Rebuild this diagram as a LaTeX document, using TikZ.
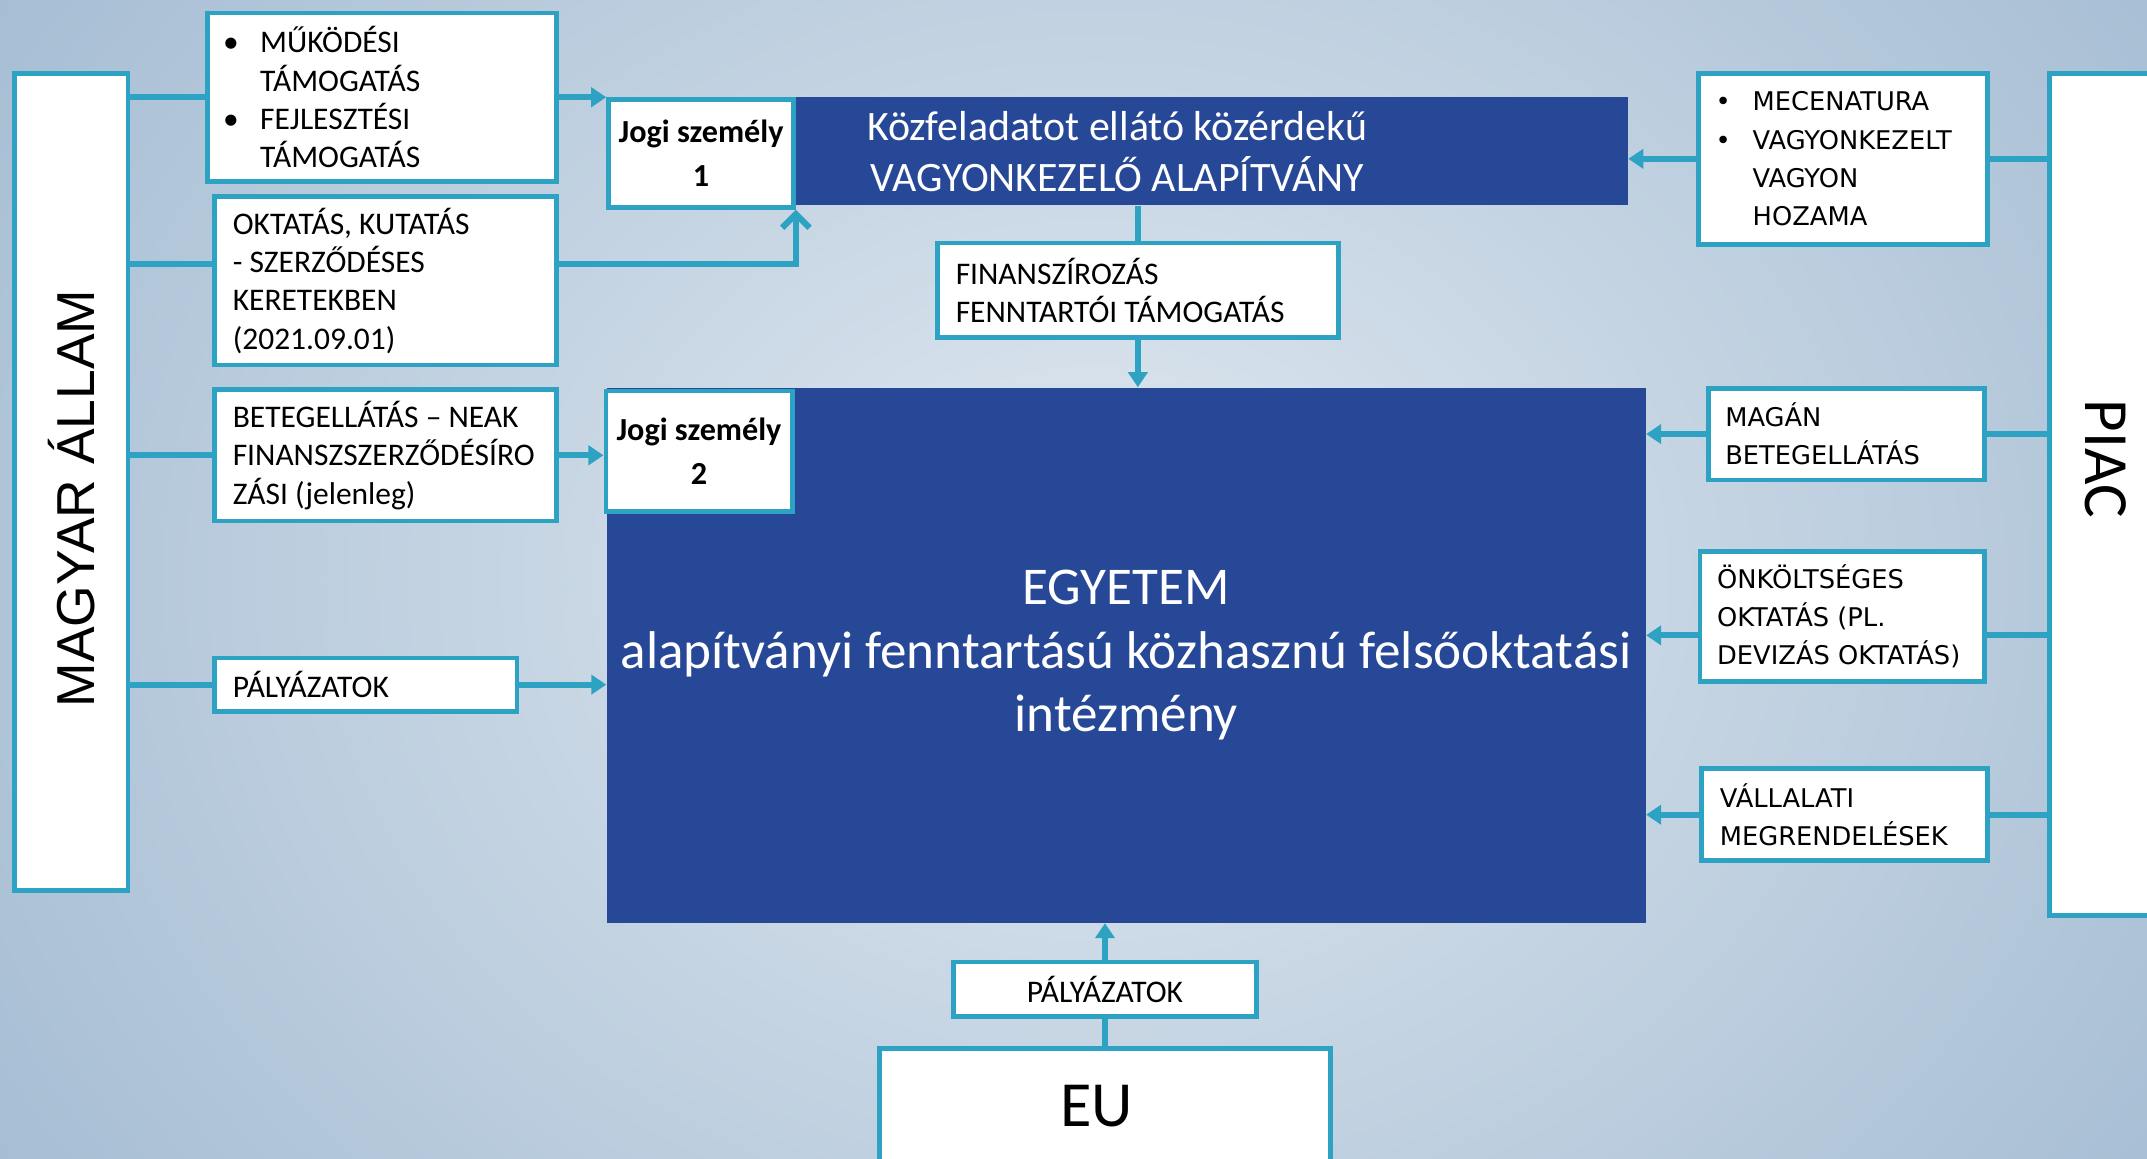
\documentclass[tikz,border=0pt]{standalone}
\usepackage{fontspec}
\setmainfont{Carlito}
\newfontfamily\arialfont{Liberation Sans}
\newfontfamily\verdfont{DejaVu Sans}
\usetikzlibrary{arrows.meta}
\definecolor{kek}{RGB}{45,162,194}
\definecolor{sotet}{RGB}{39,71,151}
\definecolor{hatterbel}{RGB}{224,232,240}
\definecolor{hatterkul}{RGB}{118,154,188}
\newcommand\boxfont{\fontsize{23}{28}\selectfont}
\newcommand\rightfont{\verdfont\fontsize{18.8}{28}\selectfont}
\newcommand\pont{\makebox[23pt][l]{\hspace*{-4pt}•}}
\frenchspacing
\begin{document}
\begin{tikzpicture}[x=1pt,y=-1pt]
	\tikzstyle{Box} = [draw=kek, line width=3.5pt, fill=white, inner sep=0pt, align=flush left, font=\boxfont]
	\tikzstyle{RBox} = [Box, font=\rightfont]
	\tikzstyle{Dark} = [fill=sotet, inner sep=0pt, text=white, align=center]
	\tikzstyle{Jogi} = [Box, align=center, font=\bfseries\fontsize{23.5}{32}\selectfont]
	\tikzstyle{Link} = [draw=kek, line width=4.5pt]
	\tikzstyle{Head} = [-{Triangle[length=11pt,width=14pt]}]
	\tikzstyle{Barb} = [-{Straight Barb[length=10pt,width=20pt,line width=4.5pt]}]
	\useasboundingbox (0,0) rectangle (1568,846);
	\clip (0,0) rectangle (1568,846);
	\shade[inner color=hatterbel, outer color=hatterkul] (-940,-1017) rectangle (2540,1863);
	% left side
	\node (allam) at (52,352) [Box, minimum width=83, minimum height=597, align=center] {\rotatebox{90}{\arialfont\fontsize{39}{47}\selectfont\hspace*{-24pt}MAGYAR ÁLLAM}};
	\node (muk) at (279,71) [Box, minimum width=255, minimum height=123, text width=224] {\pont MŰKÖDÉSI\\\hspace*{23pt}TÁMOGATÁS\\\pont FEJLESZTÉSI\\\hspace*{23pt}TÁMOGATÁS};
	\node (okt) at (281.5,205) [Box, minimum width=250, minimum height=123, text width=223] {OKTATÁS, KUTATÁS\\- SZERZŐDÉSES\\KERETEKBEN\\(2021.09.01)};
	\node (beteg) at (281.5,332.5) [Box, minimum width=250, minimum height=96, text width=223] {BETEGELLÁTÁS -- NEAK\\FINANSZSZERZŐDÉSÍRO\\ZÁSI (jelenleg)};
	\node (pal1) at (267,500) [Box, minimum width=221, minimum height=39, text width=194] {PÁLYÁZATOK};
	% middle
	\node (alap) at (816,110.5) [Dark, minimum width=746, minimum height=79, font=\fontsize{30.6}{37}\selectfont] {Közfeladatot ellátó közérdekű\\VAGYONKEZELŐ ALAPÍTVÁNY};
	\node (jogi1) at (512,112) [Jogi, minimum width=135, minimum height=79] {Jogi személy\\1};
	\node (fin) at (831,212) [Box, minimum width=293, minimum height=69, text width=266] {FINANSZÍROZÁS\\FENNTARTÓI TÁMOGATÁS};
	\node (egy) at (822.5,478.5) [Dark, minimum width=759, minimum height=391, font=\fontsize{38.8}{46.5}\selectfont] {\raisebox{-4pt}{EGYETEM}\\\raisebox{-4pt}{alapítványi fenntartású közhasznú felsőoktatási}\\\raisebox{-4pt}{intézmény}};
	\node (jogi2) at (510.5,329.5) [Jogi, minimum width=136, minimum height=88] {Jogi személy\\2};
	\node (pal2) at (807,722.5) [Box, minimum width=221, minimum height=40, align=center] {PÁLYÁZATOK};
	\node (eu) at (807,808) [Box, minimum width=329, minimum height=85, align=center, font=\fontsize{47}{54}\selectfont] {\hspace*{-12pt}EU};
	% right side
	\node (mecen) at (1346,116) [RBox, minimum width=211, minimum height=125, text width=178] {\pont MECENATURA\\\pont VAGYONKEZELT\\\hspace*{23pt}VAGYON\\\hspace*{23pt}HOZAMA};
	\node (magan) at (1348.5,317) [RBox, minimum width=202, minimum height=67, text width=177] {MAGÁN\\BETEGELLÁTÁS};
	\node (onk) at (1345.5,450) [RBox, minimum width=208, minimum height=95, text width=183] {ÖNKÖLTSÉGES\\OKTATÁS (PL.\\DEVIZÁS OKTATÁS)};
	\node (vall) at (1347,595) [RBox, minimum width=209, minimum height=67, text width=182] {VÁLLALATI\\MEGRENDELÉSEK};
	\node (piac) at (1537.5,361) [Box, minimum width=82, minimum height=615, align=center] {\rotatebox{-90}{\fontsize{46}{55}\selectfont\hspace*{-52pt}PIAC}};
	% connectors
	\draw[Link] [-] (allam.east |- muk.west) to (muk.west);
	\draw[Link] [Head] (muk.east) to (muk.east -| jogi1.west);
	\draw[Link] [-] ([yshift=12pt]okt.west -| allam.east) to ([yshift=12pt]okt.west);
	\draw[Link] [Barb] ([yshift=12pt]okt.east) -| (jogi1.south east);
	\draw[Link] [-] (allam.east |- beteg.west) to (beteg.west);
	\draw[Link] [Head] (beteg.east) to (beteg.east -| jogi2.west);
	\draw[Link] [-] (allam.east |- pal1.west) to (pal1.west);
	\draw[Link] [Head] (pal1.east) to (pal1.east -| egy.west);
	\draw[Link] [-] (fin.north |- alap.south) to (fin.north);
	\draw[Link] [Head] (fin.south) to (fin.south |- egy.north);
	\draw[Link] [-] (piac.west |- mecen.east) to (mecen.east);
	\draw[Link] [Head] (mecen.west) to (mecen.west -| alap.east);
	\draw[Link] [-] (piac.west |- magan.east) to (magan.east);
	\draw[Link] [Head] (magan.west) to (magan.west -| egy.east);
	\draw[Link] [-] ([yshift=-14pt]piac.west |- onk.east) to ([yshift=-14pt]onk.east);
	\draw[Link] [Head] ([yshift=-14pt]onk.west) to ([yshift=-14pt]onk.west -| egy.east);
	\draw[Link] [-] (piac.west |- vall.east) to (vall.east);
	\draw[Link] [Head] (vall.west) to (vall.west -| egy.east);
	\draw[Link] [-] (eu.north) to (pal2.south);
	\draw[Link] [Head] (pal2.north) to (pal2.north |- egy.south);
\end{tikzpicture}
\end{document}
